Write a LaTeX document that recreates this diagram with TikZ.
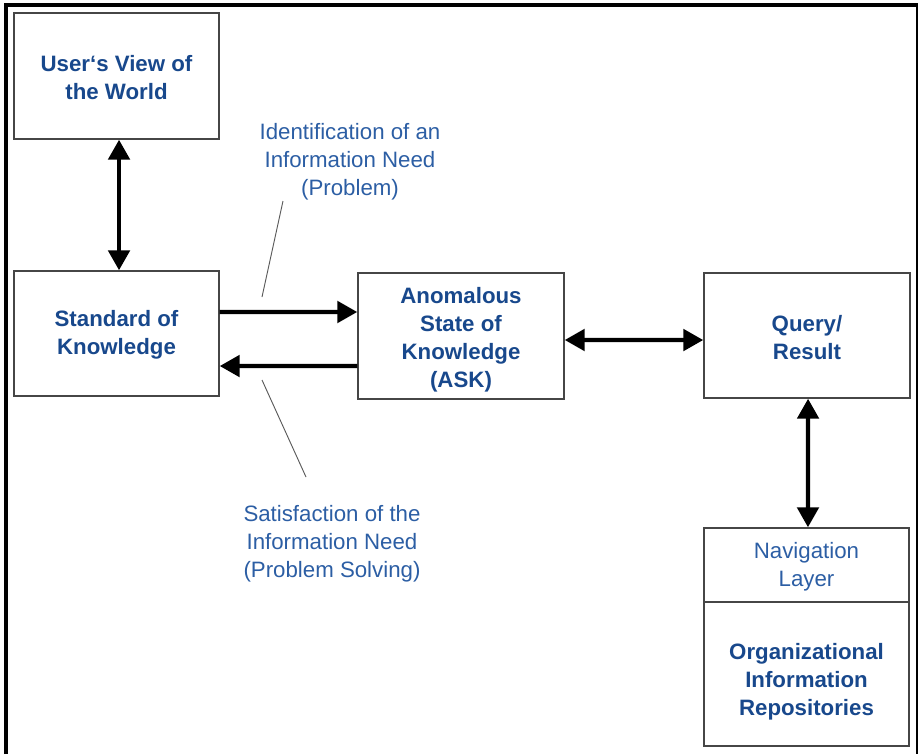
\documentclass[tikz,border=0pt]{standalone}
\usepackage{fontspec}
\setmainfont{Liberation Sans}
\usetikzlibrary{arrows.meta}
\definecolor{boxtext}{RGB}{24,72,140}
\definecolor{notetext}{RGB}{44,94,164}
\definecolor{boxline}{RGB}{70,70,70}
\definecolor{leader}{RGB}{90,90,90}
\begin{document}
\begin{tikzpicture}[x=0.75pt,y=-0.75pt,
  every node/.style={font=\fontsize{16.7}{21}\selectfont, align=center, inner sep=0pt},
  box/.style={draw=boxline, line width=1.1pt, rectangle},
  title/.style={text=boxtext, font=\fontsize{16.7}{21}\selectfont\bfseries},
  note/.style={text=notetext},
  flow/.style={line width=3.2pt, -{Triangle[length=15pt,width=16pt]}},
  twoway/.style={line width=3.2pt, {Triangle[length=15pt,width=16pt]}-{Triangle[length=15pt,width=16pt]}},
  lead/.style={draw=leader, line width=0.7pt}]
\useasboundingbox (0,0) rectangle (918,754);

% open frame around the page
\draw[line width=2.3pt] (6,754) -- (6,5) -- (918,5);
\draw[line width=1.6pt] (917,5) -- (917,754);

% boxes
\node[box, minimum width=153.75pt, minimum height=94.5pt] (user) at (116.5,76) {};
\node[box, minimum width=153.75pt, minimum height=93.75pt] (std) at (116.5,333.5) {};
\node[box, minimum width=154.5pt, minimum height=94.5pt] (ask) at (461,336) {};
\node[box, minimum width=154.5pt, minimum height=93.75pt] (query) at (807,335.5) {};
\node[box, minimum width=153.75pt, minimum height=55.5pt] (nav) at (806.5,565) {};
\node[box, minimum width=153.75pt, minimum height=108pt] (org) at (806.5,674) {};

% box texts
\node[title] (userT) at ([yshift=-1.2pt]user.center) {User‘s View of\\the World};
\node[title] (stdT) at ([yshift=-1.2pt]std.center) {Standard of\\Knowledge};
\node[title] (askT) at ([yshift=-3pt]ask.center) {Anomalous\\State of\\Knowledge\\(ASK)};
\node[title] (queryT) at ([yshift=-1.5pt]query.center) {Query/\\Result};
\node[note] (navT) at ([yshift=-1.5pt]nav.center) {Navigation\\Layer};
\node[title] (orgT) at ([yshift=-5.5pt]org.center) {Organizational\\Information\\Repositories};

% notes
\node[note] (ident) at (350,161.5) {Identification of an\\Information Need\\(Problem)};
\node[note] (satis) at (332,544) {Satisfaction of the\\Information Need\\(Problem Solving)};

% connectors
\draw[twoway] ([xshift=1.9pt]user.south) -- ([xshift=1.9pt]std.north);
\draw[flow] ([yshift=16.1pt]std.east) -- ([yshift=18pt]ask.west);
\draw[flow] ([yshift=-22.5pt]ask.west) -- ([yshift=-24.4pt]std.east);
\draw[twoway] ([yshift=-3pt]ask.east) -- ([yshift=-3.4pt]query.west);
\draw[twoway] ([xshift=0.8pt]query.south) -- ([xshift=1.1pt]nav.north);

% leader lines from the notes to the arrows
\coordinate (identA) at (283,201);
\coordinate (identB) at (262,297);
\coordinate (satisA) at (262,380);
\coordinate (satisB) at (306,477);
\draw[lead] (identA) -- (identB);
\draw[lead] (satisA) -- (satisB);
\end{tikzpicture}
\end{document}
